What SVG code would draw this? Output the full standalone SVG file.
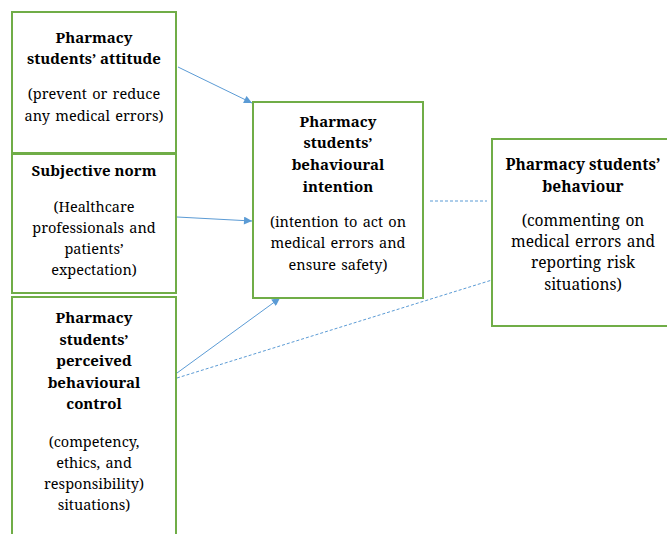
<svg xmlns="http://www.w3.org/2000/svg" width="667" height="534" viewBox="0 0 667 534">
<style>
.box{fill:#fff;stroke:#70AD47;stroke-width:2}
text{font-family:'Noto Serif','DejaVu Serif',serif;font-size:14.5px;fill:#000;text-anchor:middle;word-spacing:1.5px}
.b{font-weight:bold;font-size:15px;word-spacing:0}
#behaviour text{font-size:15.5px}
.c{stroke:#5B9BD5;stroke-width:1;fill:none}
.d{stroke-dasharray:3 2}
</style>
<defs>
<marker id="ah" viewBox="0 0 10 10" refX="10" refY="5" markerWidth="10" markerHeight="8" markerUnits="userSpaceOnUse" orient="auto">
<path d="M0,0 L10,5 L0,10 z" fill="#5B9BD5"/>
</marker>
</defs>
<g id="connectors">
<line class="c" x1="178" y1="67" x2="252" y2="103" marker-end="url(#ah)"/>
<line class="c" x1="177" y1="217" x2="252" y2="221" marker-end="url(#ah)"/>
<line class="c" x1="177" y1="373" x2="280" y2="298" marker-end="url(#ah)"/>
<line class="c d" x1="177" y1="378" x2="492" y2="280"/>
<line class="c d" x1="430" y1="201" x2="487" y2="201"/>
</g>
<g id="attitude">
<rect class="box" x="12" y="12" width="164" height="141"/>
<text class="b" x="94" y="43">Pharmacy</text>
<text class="b" x="94" y="64">students’ attitude</text>
<text x="94" y="99">(prevent or reduce</text>
<text x="94" y="121">any medical errors)</text>
</g>
<g id="norm">
<rect class="box" x="12" y="154" width="164" height="139"/>
<text class="b" x="94" y="176">Subjective norm</text>
<text x="94" y="212">(Healthcare</text>
<text x="94" y="233">professionals and</text>
<text x="94" y="254">patients’</text>
<text x="94" y="275">expectation)</text>
</g>
<g id="control">
<rect class="box" x="12" y="297" width="164" height="250"/>
<text class="b" x="94" y="323">Pharmacy</text>
<text class="b" x="94" y="345">students’</text>
<text class="b" x="94" y="366">perceived</text>
<text class="b" x="94" y="388">behavioural</text>
<text class="b" x="94" y="409">control</text>
<text x="94" y="447">(competency,</text>
<text x="94" y="468">ethics, and</text>
<text x="94" y="489">responsibility)</text>
<text x="94" y="510">situations)</text>
</g>
<g id="intention">
<rect class="box" x="253" y="102" width="170" height="196"/>
<text class="b" x="338" y="127">Pharmacy</text>
<text class="b" x="338" y="148">students’</text>
<text class="b" x="338" y="170">behavioural</text>
<text class="b" x="338" y="192">intention</text>
<text x="338" y="227">(intention to act on</text>
<text x="338" y="248">medical errors and</text>
<text x="338" y="270">ensure safety)</text>
</g>
<g id="behaviour">
<rect class="box" x="492" y="139" width="183" height="187"/>
<text class="b" x="583" y="170">Pharmacy students’</text>
<text class="b" x="583" y="192">behaviour</text>
<text x="583" y="226">(commenting on</text>
<text x="583" y="247">medical errors and</text>
<text x="583" y="268">reporting risk</text>
<text x="583" y="290">situations)</text>
</g>
</svg>
